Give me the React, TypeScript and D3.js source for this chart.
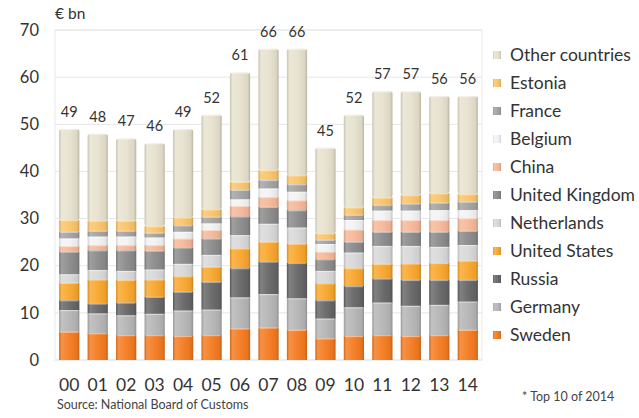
import React from "react";
import * as d3 from "d3";

const years = ["00","01","02","03","04","05","06","07","08","09","10","11","12","13","14"];
const totals = [49,48,47,46,49,52,61,66,66,45,52,57,57,56,56];
const countries = ["Sweden","Germany","Russia","United States","Netherlands","United Kingdom","China","Belgium","France","Estonia","Other countries"];
const colors = ["#F47A1F","#B5B5B5","#666666","#F9A62C","#D8D8D8","#8A8A8A","#F6B898","#F3F3F3","#A2A2A2","#FAC46A","#E7E2CE"];

const sweden      = [6.0,5.7,5.3,5.3,5.1,5.3,6.7,6.9,6.4,4.6,5.1,5.3,5.1,5.3,6.4];
const germany     = [4.6,4.2,4.2,4.5,5.4,5.4,6.6,7.1,6.7,4.2,6.1,6.9,6.4,6.4,6.0];
const russia      = [2.1,2.1,2.7,3.6,4.0,5.9,6.2,6.9,7.5,3.9,4.5,5.1,5.5,5.3,4.6];
const unitedStates= [3.7,5.1,4.8,3.7,3.3,3.2,4.2,4.2,4.1,3.6,3.8,3.1,3.5,3.6,4.1];
const netherlands = [1.8,2.0,1.9,2.1,2.6,2.5,2.8,3.8,3.4,2.6,3.3,3.8,3.7,3.4,3.3];
const unitedKingdom=[4.8,4.2,4.4,4.0,3.5,3.5,4.0,3.6,3.7,2.5,2.3,3.0,3.0,3.2,3.0];
const china       = [1.2,1.1,1.1,1.2,1.9,1.8,2.2,2.1,2.1,1.6,2.6,2.5,2.5,2.5,2.7];
const belgium     = [1.6,1.8,1.8,1.6,1.4,1.4,1.4,1.8,1.8,1.6,2.0,2.0,2.0,2.1,1.7];
const france      = [1.4,1.2,1.2,1.0,1.4,1.4,2.0,1.8,1.6,0.9,1.1,1.2,1.5,1.6,1.8];
const estonia     = [2.5,2.2,2.2,1.4,1.7,1.6,1.7,2.1,1.9,1.4,1.6,1.6,1.8,2.0,1.6];

const yTicks = [0,10,20,30,40,50,60,70];

const W = 639, H = 418;
const FONT = "Lato, 'Open Sans', sans-serif";

export default function App() {
  const series = [sweden,germany,russia,unitedStates,netherlands,unitedKingdom,china,belgium,france,estonia];
  const rows = years.map((yr, i) => {
    const r: any = { year: yr };
    let sum = 0;
    series.forEach((s, k) => { r[countries[k]] = s[i]; sum += s[i]; });
    r["Other countries"] = totals[i] - sum;
    return r;
  });
  const stacked = d3.stack().keys(countries)(rows as any);

  const x = d3.scaleBand().domain(years).range([55, 482]).paddingInner(0.29).paddingOuter(0.145);
  const y = d3.scaleLinear().domain([0, 70]).range([360, 30]);
  const bw = x.bandwidth();

  return (
    <svg width={W} height={H} style={{ display: "block", position: "absolute", left: 0, top: 0, background: "#fff" }} fontFamily={FONT}>
      <defs>
        <linearGradient id="shade" x1="0" x2="1" y1="0" y2="0">
          <stop offset="0" stopColor="#000" stopOpacity="0.12" />
          <stop offset="0.12" stopColor="#fff" stopOpacity="0.18" />
          <stop offset="0.5" stopColor="#fff" stopOpacity="0.05" />
          <stop offset="0.88" stopColor="#000" stopOpacity="0.05" />
          <stop offset="1" stopColor="#000" stopOpacity="0.2" />
        </linearGradient>
      </defs>
      <rect x={55} y={30} width={427} height={330} fill="none" stroke="#EAEAEA" />
      {yTicks.map(t => (
        <g key={t}>
          <line x1={55} x2={482} y1={y(t)} y2={y(t)} stroke="#E6E6E6" />
          <text x={39} y={y(t)} dy="0.35em" textAnchor="end" fontSize={16.5} fill="#333">{t}</text>
        </g>
      ))}
      <text x={55} y={19} fontSize={15.5} fill="#333">€ bn</text>
      {stacked.map((layer, k) => (
        <g key={countries[k]}>
          {layer.map((d, i) => {
            const y0 = y(d[0]), y1 = y(d[1]);
            const h = Math.max(0, y0 - y1);
            const isTop = k === countries.length - 1;
            return (
              <g key={i}>
                <rect x={x(years[i])} y={y1} width={bw} height={h} fill={colors[k]} rx={isTop ? 2.5 : 0} />
                <rect x={x(years[i])} y={y1} width={bw} height={h} fill="url(#shade)" rx={isTop ? 2.5 : 0} />
                <rect x={x(years[i])! + 1} y={y1} width={bw - 2} height={Math.min(1.2, h)} fill="#fff" opacity={0.45} />
              </g>
            );
          })}
        </g>
      ))}
      {years.map((yr, i) => (
        <text key={yr} x={x(yr)! + bw / 2} y={y(totals[i]) - 12} textAnchor="middle" fontSize={14.5} fill="#333">{totals[i]}</text>
      ))}
      {years.map(yr => (
        <text key={yr} x={x(yr)! + bw / 2} y={385} dy="0.35em" textAnchor="middle" fontSize={17.5} fill="#333">{yr}</text>
      ))}
      {countries.slice().reverse().map((c, j) => {
        const k = countries.length - 1 - j;
        const cy = 55 + j * 28;
        return (
          <g key={c}>
            <rect x={493} y={cy - 4} width={8} height={8} fill={colors[k]} />
            <rect x={493} y={cy - 4} width={8} height={8} fill="url(#shade)" />
            <text x={510} y={cy} dy="0.35em" fontSize={17.5} fill="#333">{c}</text>
          </g>
        );
      })}
      <text x={57} y={409} fontSize={12.5} fill="#444">Source: National Board of Customs</text>
      <text x={522} y={401} fontSize={12.5} fill="#444">* Top 10 of 2014</text>
    </svg>
  );
}
